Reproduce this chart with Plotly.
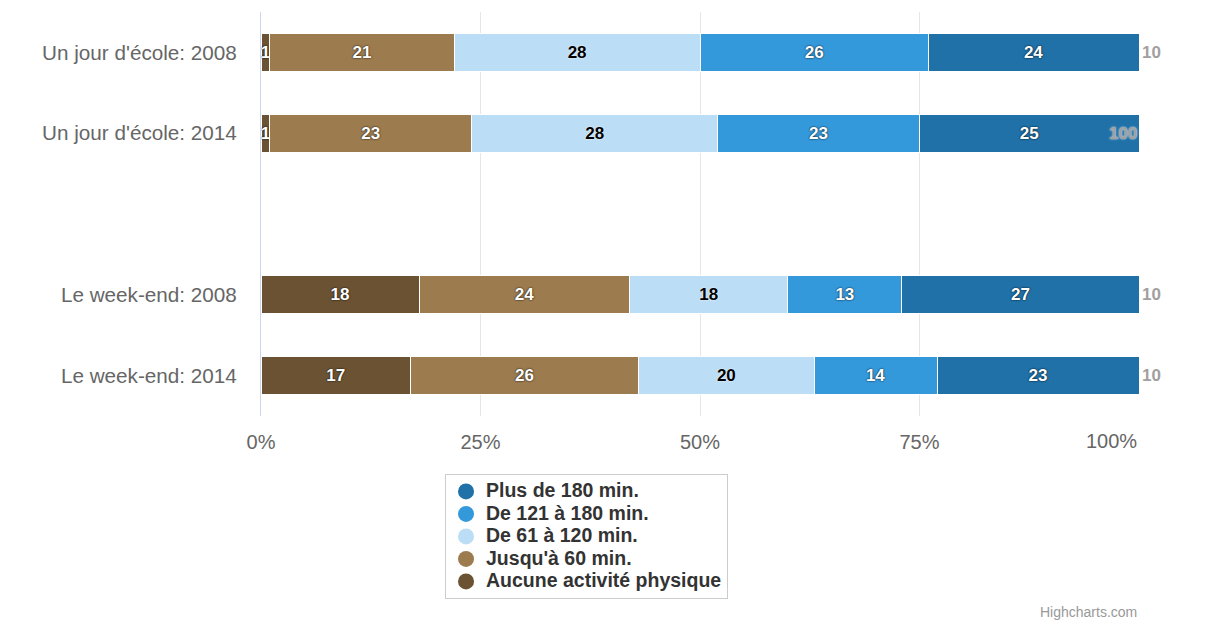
import plotly.graph_objects as go

categories = ["Un jour d'école: 2008", "Un jour d'école: 2014", " ", "Le week-end: 2008", "Le week-end: 2014"]
bar_categories = ["Un jour d'école: 2008", "Un jour d'école: 2014", "Le week-end: 2008", "Le week-end: 2014"]

series_names = ["Aucune activité physique", "Jusqu'à 60 min.", "De 61 à 120 min.", "De 121 à 180 min.", "Plus de 180 min."]
aucune = [1, 1, 18, 17]
jusqua60 = [21, 23, 24, 26]
de61a120 = [28, 28, 18, 20]
de121a180 = [26, 23, 13, 14]
plus180 = [24, 25, 27, 23]
totals = [100, 100, 100, 100]
total_labels = ["10", "100", "10", "10"]

colors = ["#6a5233", "#9c7b4e", "#bbddf5", "#3499db", "#1f71a8"]
label_colors = ["#ffffff", "#ffffff", "#000000", "#ffffff", "#ffffff"]
label_shadows = ["0px 0px 2px #000000", "0px 0px 2px #000000", "0px 0px 2px #ffffff",
                 "0px 0px 2px #000000", "0px 0px 2px #000000"]
series_values = [aucune, jusqua60, de61a120, de121a180, plus180]

tick_vals = [0, 25, 50, 75, 100]
tick_text = ["0%", "25%", "50%", "75%", "100%"]

FONT = "Liberation Sans, Arial"

fig = go.Figure()
for name, vals, col, lc, sh in zip(series_names, series_values, colors, label_colors, label_shadows):
    fig.add_trace(go.Bar(
        y=bar_categories, x=vals, orientation="h", name=name,
        marker=dict(color=col, line=dict(color="#ffffff", width=1)),
        text=[str(v) for v in vals], textposition="inside",
        insidetextanchor="middle", constraintext="none",
        textfont=dict(family=FONT, size=17, color=lc, weight="bold", shadow=sh),
        showlegend=False, hoverinfo="x+name",
    ))

# legend entries with circle symbols
for name, col in zip(series_names, colors):
    fig.add_trace(go.Scatter(
        x=[None], y=[None], mode="markers",
        name='<span style="font-size:19.5px">' + name + "</span>",
        marker=dict(color=col, size=17, symbol="circle"),
        showlegend=True,
    ))

# stack total labels
for cat, tot, lab in zip(bar_categories, totals, total_labels):
    inside = lab == "100"
    fig.add_annotation(
        x=tot, y=cat, xref="x", yref="y", text=lab, showarrow=False,
        xanchor="right" if inside else "left", xshift=0 if inside else 1,
        font=dict(family=FONT, size=17, color="#a0a0a0", weight="bold",
                  shadow="0px 0px 2px #ffffff"),
    )

# last x tick label is justified inside the plot width
fig.add_annotation(
    x=tick_vals[-1], y=0, xref="x", yref="paper", text=tick_text[-1],
    showarrow=False, xanchor="right", yanchor="top", yshift=-12,
    font=dict(family=FONT, size=20, color="#666666"),
)

fig.add_annotation(
    x=1, y=0, xref="paper", yref="paper", yanchor="middle", xanchor="right",
    yshift=-196, text="Highcharts.com", showarrow=False,
    font=dict(family=FONT, size=14, color="#999999"),
)

fig.update_layout(
    width=1209, height=626,
    margin=dict(l=261, r=70, t=12, b=210),
    barmode="stack", bargap=0.53,
    plot_bgcolor="#ffffff", paper_bgcolor="#ffffff",
    font=dict(family=FONT, color="#666666"),
    legend=dict(
        x=0.2096, y=-0.144, xanchor="left", yanchor="top",
        traceorder="reversed", bordercolor="#cccccc", borderwidth=1,
        font=dict(family=FONT, size=15, color="#333333", weight="bold"),
        tracegroupgap=0,
    ),
    xaxis=dict(
        range=[0, 100], tickvals=tick_vals, ticktext=tick_text[:-1] + [""],
        showgrid=True, gridcolor="#e6e6e6", gridwidth=1, zeroline=False,
        showline=False, ticks="", tickfont=dict(size=20, color="#666666"),
        ticklabelstandoff=12, fixedrange=True,
    ),
    yaxis=dict(
        categoryorder="array", categoryarray=categories, type="category",
        range=[len(categories) - 0.5, -0.5],
        showline=True, linecolor="#ccd6eb", linewidth=1, showgrid=False,
        ticks="", tickfont=dict(size=20.7, color="#666666"),
        ticklabelstandoff=19, fixedrange=True,
    ),
)

fig.write_html("out.html")
